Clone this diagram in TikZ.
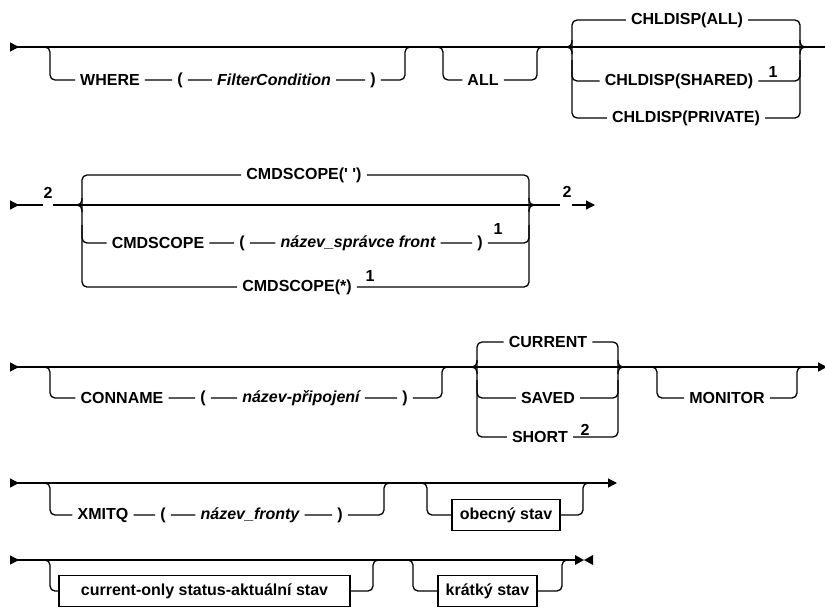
\documentclass[tikz,border=0pt]{standalone}
\usepackage{fontspec}
\setmainfont{Liberation Sans}
\usetikzlibrary{arrows.meta}

\begin{document}
\begin{tikzpicture}[
    x=1pt, y=-1pt,
    every node/.style={font=\fontsize{16}{19}\selectfont\bfseries},
    rail/.style={line width=1.3pt, rounded corners=5pt},
    kw/.style={inner xsep=5pt, inner ysep=2pt},
    var/.style={kw, font=\fontsize{16}{19}\selectfont\bfseries\itshape},
    fn/.style={anchor=south, inner sep=1pt},
    frag/.style={draw, line width=1.3pt, minimum height=31pt, inner xsep=6pt},
    railin/.style={arrows={{Triangle[reversed, length=9pt, width=9pt]}-}},
    railinout/.style={arrows={{Triangle[reversed, length=9pt, width=9pt]}-{Triangle[length=9pt, width=9pt]}}},
    railout/.style={arrows={-{Triangle[length=9pt, width=9pt]}}}
]
    \useasboundingbox (0,0) rectangle (825,611);

    % Row 1: WHERE, ALL, CHLDISP
    \draw[rail, railin] (10,47) -- (826,47);

    \node[kw] (where) at (110,80) {WHERE};
    \node[kw] (lpa) at (180,80) {(};
    \node[var] (filter) at (274,80) {FilterCondition};
    \node[kw] (rpa) at (373,80) {)};
    \draw[rail] (40,47) -| (50,80) -- (where) -- (lpa) -- (filter) -- (rpa) -| (405,47) -- (411,47);

    \node[kw] (all) at (483,80) {ALL};
    \draw[rail] (437,47) -| (443,80) -- (all) -| (537,47) -- (543,47);

    \node[kw] (chall) at (687,20) {CHLDISP(ALL)};
    \node[kw] (chshared) at (679,81) {CHLDISP(SHARED)};
    \node[fn] at (773,79) {1};
    \node[kw] (chprivate) at (686,118) {CHLDISP(PRIVATE)};
    \draw[rail] (chall) -| (572,118) -- (chprivate) -| (800,20) -- (chall);
    \draw[rail] (572,60) |- (chshared) -| (800,60);
    \draw[rail] (566,47) -| (572,40) (566,47) -| (572,54);
    \draw[rail] (806,47) -| (800,40) (806,47) -| (800,54);

    % Row 2: CMDSCOPE
    \coordinate (gapa) at (43,205);
    \coordinate (gapb) at (53,205);
    \draw[rail, railin] (10,205) -- (gapa);
    \node (twoa) at (48,193) {2};
    \draw[rail] (gapb) -- (560,205);
    \node (twob) at (567,192) {2};
    \draw[rail, railout] (572,205) -- (595,205);

    \node[kw] (csblank) at (304,175) {CMDSCOPE(\textquotesingle\ \textquotesingle)};
    \node[kw] (csname) at (158,243) {CMDSCOPE};
    \node[kw] (lpb) at (242,243) {(};
    \node[var] (qmgr) at (358,243) {název\_správce front};
    \node[kw] (rpb) at (480,243) {)};
    \node[fn] at (498,236) {1};
    \node[kw] (csall) at (297,287) {CMDSCOPE(*)};
    \node[fn] at (370,283) {1};
    \draw[rail] (csblank) -| (82,287) -- (csall) -| (529,175) -- (csblank);
    \draw[rail] (82,225) |- (csname) -- (lpb) -- (qmgr) -- (rpb) -| (529,225);
    \draw[rail] (76,205) -| (82,198) (76,205) -| (82,212);
    \draw[rail] (535,205) -| (529,198) (535,205) -| (529,212);

    % Row 3: CONNAME, CURRENT/SAVED/SHORT, MONITOR
    \draw[rail, railinout] (10,367) -- (827,367);

    \node[kw] (conname) at (122,398) {CONNAME};
    \node[kw] (lpc) at (203,398) {(};
    \node[var] (connv) at (301,398) {název-připojení};
    \node[kw] (rpc) at (405,398) {)};
    \draw[rail] (40,367) -| (50,398) -- (conname) -- (lpc) -- (connv) -- (rpc) -| (442,367) -- (448,367);

    \node[kw] (current) at (548,342) {CURRENT};
    \node[kw] (saved) at (548,398) {SAVED};
    \node[kw] (short) at (540,437) {SHORT};
    \node[fn] at (585,437) {2};
    \draw[rail] (current) -| (477,437) -- (short) -| (618,342) -- (current);
    \draw[rail] (477,380) |- (saved) -| (618,380);
    \draw[rail] (471,367) -| (477,360) (471,367) -| (477,374);
    \draw[rail] (624,367) -| (618,360) (624,367) -| (618,374);

    \node[kw] (monitor) at (727,398) {MONITOR};
    \draw[rail] (651,367) -| (657,398) -- (monitor) -| (797,367) -- (803,367);

    % Row 4: XMITQ, general status
    \draw[rail, railinout] (10,483) -- (617,483);

    \node[kw] (xmitq) at (103,515) {XMITQ};
    \node[kw] (lpd) at (163,515) {(};
    \node[var] (xmitqv) at (250,515) {název\_fronty};
    \node[kw] (rpd) at (340,515) {)};
    \draw[rail] (40,483) -| (50,515) -- (xmitq) -- (lpd) -- (xmitqv) -- (rpd) -| (384,483) -- (390,483);

    \node[frag, minimum width=108pt] (general) at (506,515) {obecný stav};
    \draw[rail] (421,483) -| (427,515) -- (general) -| (583,483) -- (589,483);

    % Row 5: current-only status, short status
    \coordinate (stop) at (575,560);
    \draw[rail, railin] (10,560) -- (stop);

    \node[frag, minimum width=291pt] (curonly) at (204.5,591) {current-only status-aktuální stav};
    \draw[rail] (40,560) -| (50,591) -- (curonly) -| (373,560) -- (379,560);

    \node[frag, minimum width=99pt] (brief) at (487.5,591) {krátký stav};
    \draw[rail] (407,560) -| (413,591) -- (brief) -| (562,560) -- (568,560);

    \fill (stop) ++(0,-5) -- ++(9,5) -- ++(-9,5) -- cycle
          (stop) ++(18,-5) -- ++(-9,5) -- ++(9,5) -- cycle;

\end{tikzpicture}
\end{document}
